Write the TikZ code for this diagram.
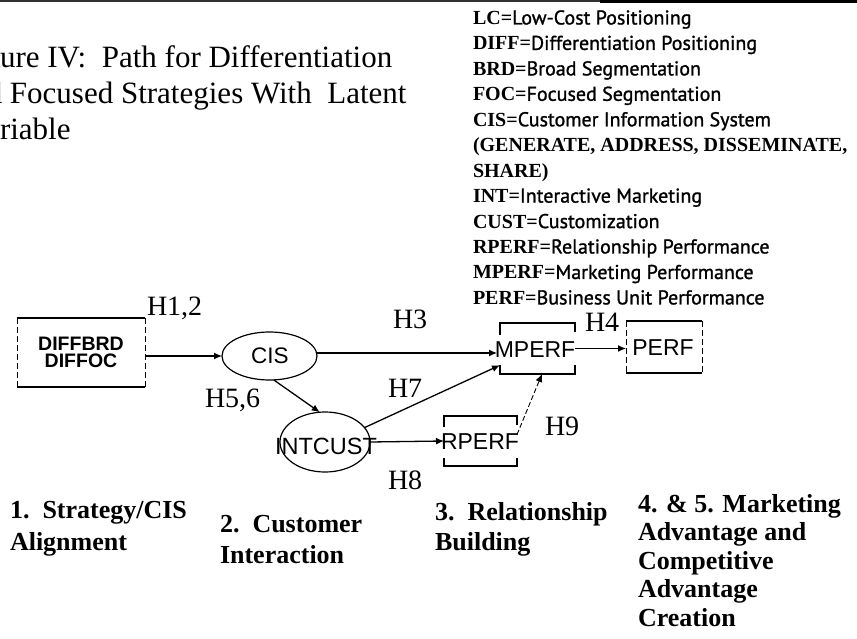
\documentclass[tikz,border=0pt]{standalone}
\usepackage{fontspec}
\setmainfont{Liberation Serif}
\newfontfamily\arialfont{Liberation Sans}
\newfontfamily\legsans[FakeBold=1.2]{PT Sans}
\usetikzlibrary{arrows.meta,shapes.geometric,calc}

\begin{document}
\begin{tikzpicture}[x=1pt,y=-1pt,
  every node/.style={inner sep=0pt, outer sep=0pt},
  conn/.style={line width=1.3pt, -{Latex[length=8pt,width=7pt]}},
  boxline/.style={line width=1.2pt},
  sideline/.style={line width=1pt, dash pattern=on 6pt off 3pt},
  ovalbox/.style={ellipse, draw, line width=1.2pt},
  hlab/.style={anchor=base west, font=\fontsize{28}{30}\selectfont},
  legline/.style={anchor=base west, font=\fontsize{20}{22}\selectfont},
  stage/.style={anchor=base west, font=\fontsize{26}{28}\selectfont\bfseries},
  titleline/.style={anchor=base west, font=\fontsize{31}{33}\selectfont},
  nodetext/.style={font=\arialfont\fontsize{23}{25}\selectfont}
]
\useasboundingbox (0,0) rectangle (857,639);

% rule along the top edge
\draw[line width=1.2pt, black!80] (0,1) -- (857,1);
\draw[line width=2.6pt] (600,1.3) -- (857,1.3);

% title
\node[titleline] (t1) at (0,68) {\llap{Fig}ure IV:\ \ Path for Differentiation};
\node[titleline] (t2) at (10,103.5) {\llap{and }Focused Strategies With\ \ Latent};
\node[titleline] (t3) at (0,139.5) {\llap{Va}riable};

% legend of abbreviations
\newcommand{\ab}[1]{{\bfseries #1}}
\node[legline] (l1)  at (473,24.5)  {\ab{LC=}{\legsans Low-Cost Positioning}};
\node[legline] (l2)  at (473,49.9)  {\ab{DIFF=}{\legsans Differentiation Positioning}};
\node[legline] (l3)  at (473,75.4)  {\ab{BRD=}{\legsans Broad Segmentation}};
\node[legline] (l4)  at (473,100.8) {\ab{FOC=}{\legsans Focused Segmentation}};
\node[legline] (l5)  at (473,126.3) {\ab{CIS=}{\legsans Customer Information System}};
\node[legline] (l6)  at (473,151.7) {\ab{(GENERATE, ADDRESS, DISSEMINATE,}};
\node[legline] (l7)  at (473,177.2) {\ab{SHARE)}};
\node[legline] (l8)  at (473,202.6) {\ab{INT=}{\legsans Interactive Marketing}};
\node[legline] (l9)  at (473,228.1) {\ab{CUST=}{\legsans Customization}};
\node[legline] (l10) at (473,253.5) {\ab{RPERF=}{\legsans Relationship Performance}};
\node[legline] (l11) at (473,279.0) {\ab{MPERF=}{\legsans Marketing Performance}};
\node[legline] (l12) at (473,304.4) {\ab{PERF=}{\legsans Business Unit Performance}};

% constructs
\node[minimum width=128pt, minimum height=69pt, align=center,
      font=\arialfont\bfseries\fontsize{19.5}{17.7}\selectfont] (diff) at (81,352.5)
      {DIFFBRD\\DIFFOC};
\node[ovalbox, minimum width=95pt, minimum height=48pt] (cis) at (269.5,356) {};
\node[nodetext, font=\arialfont\fontsize{22.5}{24}\selectfont] (cist) at (270,356) {CIS};
\node[ovalbox, minimum width=90pt, minimum height=60pt] (intcust) at (325,442) {};
\node[nodetext, font=\arialfont\fontsize{23.5}{25}\selectfont] (intt) at (326,446) {INTCUST};
\node[minimum width=75pt, minimum height=51pt] (mperf) at (537.5,348.5) {};
\node[nodetext] (mperft) at (535,350) {MPERF};
\node[minimum width=76pt, minimum height=52pt] (perf) at (664,347) {};
\node[nodetext] (perft) at (663,348) {PERF};
\node[minimum width=73pt, minimum height=50pt] (rperf) at (480.5,441) {};
\node[nodetext] (rperft) at (480,442) {RPERF};

% box outlines
\draw[boxline] (diff.north west) -- (diff.north east);
\draw[boxline] (diff.south west) -- (diff.south east);
\draw[sideline] (diff.north west) -- (diff.south west);
\draw[sideline] (diff.north east) -- (diff.south east);

\draw[boxline] ($(mperf.north west)+(0,12)$) -- (mperf.north west) -- (mperf.north east) -- ++(0,9);
\draw[boxline] ($(mperf.south west)+(0,-9)$) -- (mperf.south west) -- (mperf.south east) -- ++(0,-9);

\draw[boxline] (perf.north west) -- (perf.north east);
\draw[boxline] (perf.south west) -- (perf.south east);
\draw[sideline] (perf.north west) -- (perf.south west);
\draw[sideline] (perf.north east) -- (perf.south east);

\draw[boxline] ($(rperf.north west)+(0,11)$) -- (rperf.north west) -- (rperf.north east) -- ++(0,9);
\draw[boxline] ($(rperf.south west)+(0,-8)$) -- (rperf.south west) -- (rperf.south east) -- ++(0,-8);

% paths
\draw[conn] (diff.east |- cis.west) -- (cis.west);
\draw[conn] ($(cis.east)+(0,-3)$) -- ($(cis.east -| mperf.west)+(-3,-3)$);
\draw[conn] (mperf.east) -- (perf.west |- mperf.east);
\draw[conn] (cis.-80) -- (intcust.100);
\draw[conn] (intcust.20) -- (mperf.204);
\draw[conn] (intcust.east) -- (rperf.west);
\draw[line width=0.9pt, dash pattern=on 5pt off 2.5pt, -{Latex[length=8pt,width=7pt]}] (rperf.10) -- (mperf.-80);

% path labels
\node[hlab] (h12) at (147,315) {H1,2};
\node[hlab] (h3)  at (393,328) {H3};
\node[hlab] (h4)  at (585,331) {H4};
\node[hlab] (h56) at (205,407) {H5,6};
\node[hlab] (h7)  at (388,397) {H7};
\node[hlab] (h8)  at (388,489) {H8};
\node[hlab] (h9)  at (545,435) {H9};

% stages
\node[stage] (s1a) at (10,518) {1.\ \ Strategy/CIS};
\node[stage] (s1b) at (10,550) {Alignment};
\node[stage] (s2a) at (220,532) {2.\ \ Customer};
\node[stage] (s2b) at (220,563) {Interaction};
\node[stage] (s3a) at (435,520) {3.\ \ Relationship};
\node[stage] (s3b) at (435,550) {Building};
\node[stage] (s4a) at (638,512) {4. \& 5. Marketing};
\node[stage] (s4b) at (638,540.5) {Advantage and};
\node[stage] (s4c) at (638,569) {Competitive};
\node[stage] (s4d) at (638,597.5) {Advantage};
\node[stage] (s4e) at (638,626) {Creation};
\end{tikzpicture}
\end{document}
